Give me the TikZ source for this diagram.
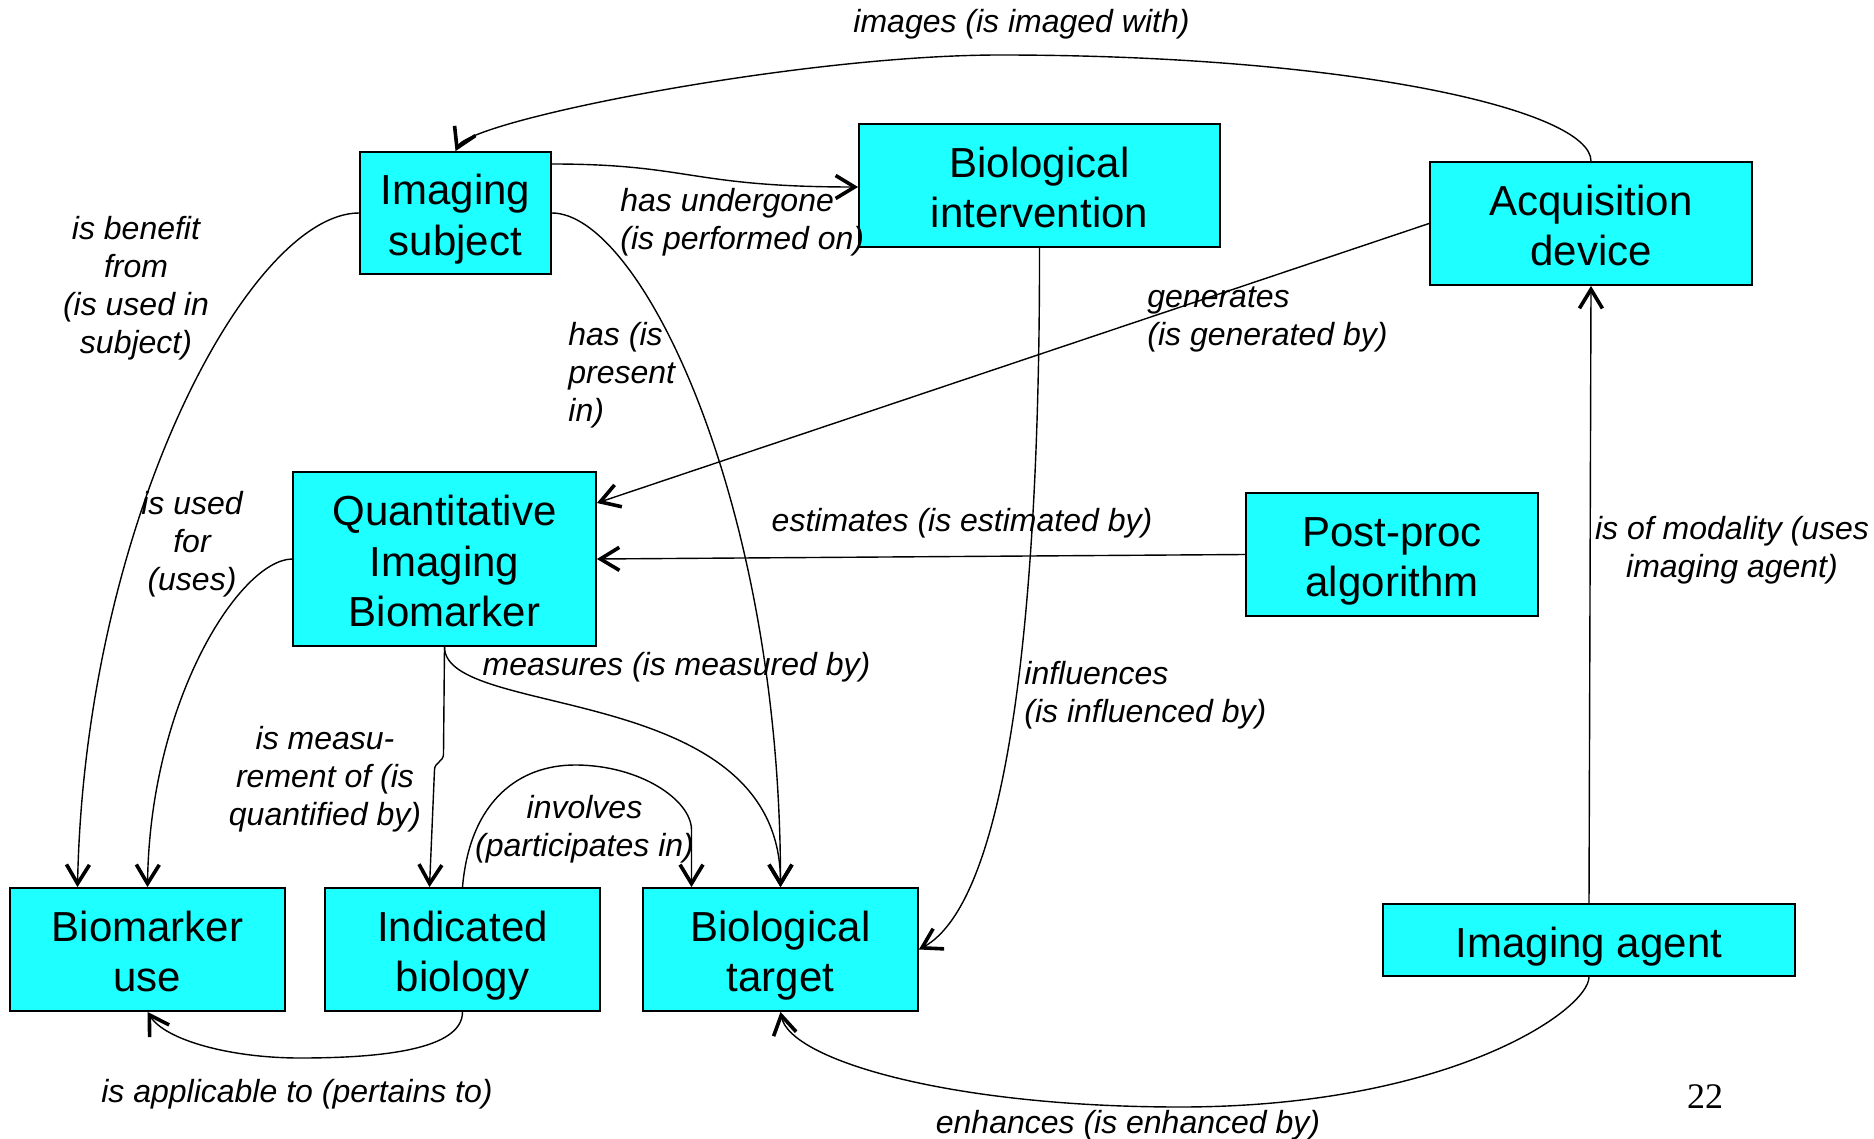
\documentclass[tikz,border=0pt]{standalone}
\usepackage{fontspec}
\setmainfont{Liberation Sans}
\newfontfamily\pagenumfont{Liberation Serif}
\usetikzlibrary{arrows.meta,calc}
\definecolor{boxcyan}{RGB}{30,255,255}
\newcommand\boxtop{\rule{0pt}{21.6pt}}
\newcommand\boxbot{\rule[-4.6pt]{0pt}{4.6pt}}
\begin{document}
\begin{tikzpicture}[x=0.5pt,y=-0.5pt,
  box/.style={draw=black, line width=0.9pt, fill=boxcyan, inner sep=0pt, align=center,
    font=\fontsize{21}{25.4}\selectfont},
  lbl/.style={inner sep=0pt, font=\fontsize{16}{19}\selectfont\itshape},
  conn/.style={line width=0.7pt, -{Straight Barb[length=9.5pt,width=11.5pt,line width=1.8pt]}}]
\useasboundingbox (0,0) rectangle (1874,1139);

% boxes
\node[box, minimum width=95.5pt, minimum height=61pt] (subj) at (455.5,213) {\boxtop Imaging\\subject\boxbot};
\node[box, minimum width=180.5pt, minimum height=61.5pt] (intv) at (1039.5,185.5) {\boxtop Biological\\intervention\boxbot};
\node[box, minimum width=161pt, minimum height=61.5pt] (acq) at (1591,223.5) {\boxtop Acquisition\\device\boxbot};
\node[box, minimum width=151.5pt, minimum height=87pt] (qib) at (444.5,559) {\boxtop Quantitative\\Imaging\\Biomarker\boxbot};
\node[box, minimum width=146pt, minimum height=61.5pt] (post) at (1392,554.5) {\boxtop Post-proc\\algorithm\boxbot};
\node[box, minimum width=137.5pt, minimum height=61.5pt] (bmu) at (147.5,949.5) {\boxtop Biomarker\\use\boxbot};
\node[box, minimum width=137.5pt, minimum height=61.5pt] (ib) at (462.5,949.5) {\boxtop Indicated\\biology\boxbot};
\node[box, minimum width=137.5pt, minimum height=61.5pt] (bt) at (780.5,949.5) {\boxtop Biological\\target\boxbot};
\node[box, minimum width=206pt, minimum height=36pt] (agent) at (1589,940) {\boxtop Imaging agent\boxbot};

% connectors
\draw[conn] (acq.north) .. controls (1591,110) and (1350,55) .. (1000,55)
  .. controls (800,55) and (470,120) .. (subj.north);
\draw[conn] ($(subj.east)+(0,-49)$) .. controls (690,164) and (690,187) .. ($(intv.west)+(0,1.5)$);
\draw[conn] (subj.west) .. controls (250,213) and (85,520) .. ($(bmu.north)+(-70,0)$);
\draw[conn] (subj.east) .. controls (640,213) and (780.5,500) .. (bt.north);
\draw[conn] (intv.south) .. controls (1040,600) and (1010,900) .. (bt.east);
\draw[conn] (acq.west) -- ($(qib.east)+(0,-56)$);
\draw[conn] (post.west) -- (qib.east);
\draw[conn] (agent.north) -- (acq.south);
\draw[conn] (agent.south) .. controls (1589,1010) and (1450,1107) .. (1180,1107)
  .. controls (950,1107) and (790,1060) .. (bt.south);
\draw[conn] (qib.west) .. controls (240,560) and (150,700) .. (bmu.north);
\draw[conn] (qib.south) -- (443.5,754) .. controls (443.5,762) and (434.5,762) .. (434.5,770)
  -- ($(ib.north)+(-33,0)$);
\draw[conn] (qib.south) .. controls (444.5,720) and (780.5,680) .. (bt.north);
\draw[conn] (ib.north) .. controls (470,800) and (520,765) .. (575,765)
  .. controls (640,765) and (691.5,800) .. (691.5,830) -- ($(bt.north)+(-89,0)$);
\draw[conn] (ib.south) .. controls (462.5,1050) and (380,1058) .. (300,1058)
  .. controls (230,1058) and (165,1040) .. (bmu.south);

% labels
\node[lbl] (limg) at (1021.5,24) {images (is imaged with)};
\node[lbl, anchor=west, align=left] (lund) at (620,222) {has undergone\\(is performed on)};
\node[lbl, align=center] (lben) at (136,288) {is benefit\\from\\(is used in\\subject)};
\node[lbl, anchor=west, align=left] (lhas) at (568,375) {has (is\\present\\in)};
\node[lbl, anchor=west, align=left] (lgen) at (1147,319) {generates\\(is generated by)};
\node[lbl] (lest) at (962,523) {estimates (is estimated by)};
\node[lbl, align=center] (lmod) at (1732,550) {is of modality (uses\\imaging agent)};
\node[lbl, anchor=west, align=left] (linf) at (1024,695) {influences\\(is influenced by)};
\node[lbl] (lenh) at (1128,1125) {enhances (is enhanced by)};
\node[lbl, align=center] (luse) at (192,544.5) {is used\\for\\(uses)};
\node[lbl, align=center] (lmsr) at (325,779) {is measu-\\rement of (is\\quantified by)};
\node[lbl] (lmea) at (676.5,667) {measures (is measured by)};
\node[lbl, align=center] (linv) at (584.5,829) {involves\\(participates in)};
\node[lbl] (lapp) at (297,1094.5) {is applicable to (pertains to)};
\node[inner sep=0pt, font=\pagenumfont\fontsize{18}{20}\selectfont] (pgnum) at (1705,1097) {22};
\end{tikzpicture}
\end{document}
